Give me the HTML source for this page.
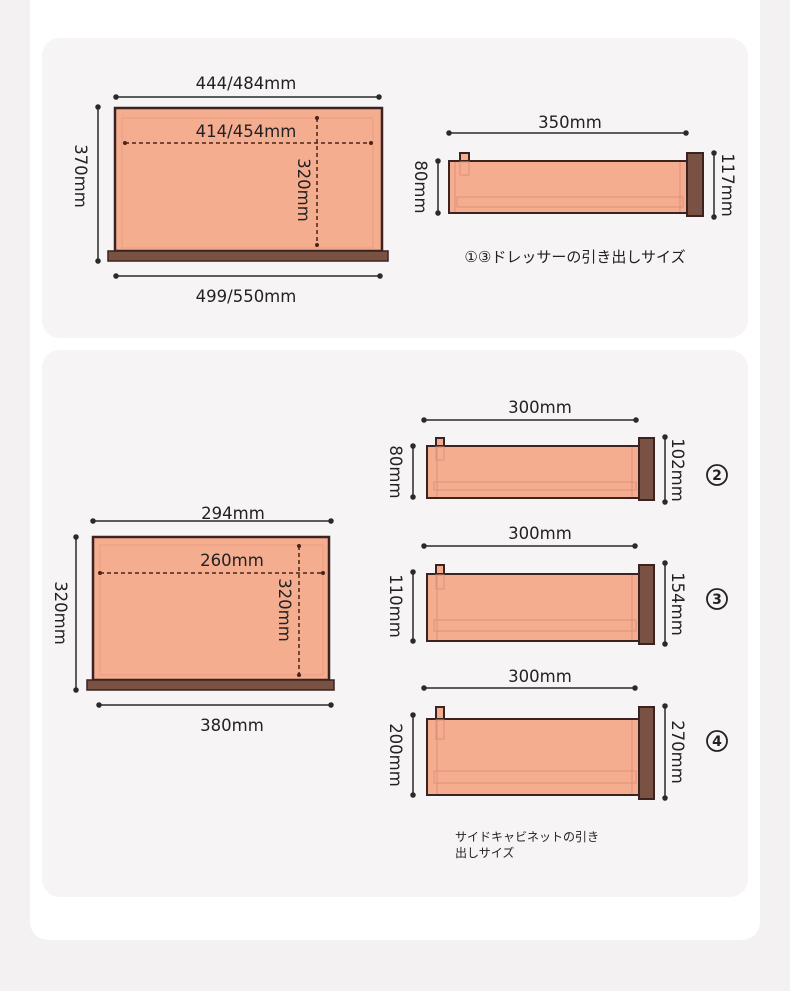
<!DOCTYPE html>
<html><head><meta charset="utf-8"><style>
html,body{margin:0;padding:0;background:#f3f1f1;width:790px;height:991px;overflow:hidden}
svg{display:block}
text{font-family:"DejaVu Sans","Noto Sans CJK JP",sans-serif;fill:#222}
</style></head><body>
<svg width="790" height="991" viewBox="0 0 790 991" xmlns="http://www.w3.org/2000/svg">
<rect x="0" y="0" width="790" height="991" fill="#f3f1f1"/>
<rect x="30" y="-20" width="730" height="960" rx="18" fill="#fff"/>
<rect x="42" y="38" width="706" height="300" rx="18" fill="#f6f4f4"/>
<rect x="42" y="350" width="706" height="547" rx="18" fill="#f6f4f4"/>

<g stroke="#2a2a2a" stroke-width="1.5" fill="#2a2a2a">
<line x1="116" y1="97" x2="379" y2="97"/><circle cx="116" cy="97" r="2"/><circle cx="379" cy="97" r="2"/>
<line x1="98" y1="107" x2="98" y2="261"/><circle cx="98" cy="107" r="2"/><circle cx="98" cy="261" r="2"/>
<line x1="116" y1="276" x2="380" y2="276"/><circle cx="116" cy="276" r="2"/><circle cx="380" cy="276" r="2"/>
<line x1="449" y1="133" x2="686" y2="133"/><circle cx="449" cy="133" r="2"/><circle cx="686" cy="133" r="2"/>
<line x1="438" y1="161" x2="438" y2="213"/><circle cx="438" cy="161" r="2"/><circle cx="438" cy="213" r="2"/>
<line x1="714" y1="153" x2="714" y2="217"/><circle cx="714" cy="153" r="2"/><circle cx="714" cy="217" r="2"/>
<line x1="93" y1="521" x2="331" y2="521"/><circle cx="93" cy="521" r="2"/><circle cx="331" cy="521" r="2"/>
<line x1="76" y1="537" x2="76" y2="690"/><circle cx="76" cy="537" r="2"/><circle cx="76" cy="690" r="2"/>
<line x1="99" y1="705" x2="331" y2="705"/><circle cx="99" cy="705" r="2"/><circle cx="331" cy="705" r="2"/>
<line x1="424" y1="420" x2="636" y2="420"/><circle cx="424" cy="420" r="2"/><circle cx="636" cy="420" r="2"/>
<line x1="413" y1="446" x2="413" y2="497"/><circle cx="413" cy="446" r="2"/><circle cx="413" cy="497" r="2"/>
<line x1="665" y1="437" x2="665" y2="502"/><circle cx="665" cy="437" r="2"/><circle cx="665" cy="502" r="2"/>
<line x1="424" y1="546" x2="635" y2="546"/><circle cx="424" cy="546" r="2"/><circle cx="635" cy="546" r="2"/>
<line x1="413" y1="572" x2="413" y2="641"/><circle cx="413" cy="572" r="2"/><circle cx="413" cy="641" r="2"/>
<line x1="665" y1="563" x2="665" y2="644"/><circle cx="665" cy="563" r="2"/><circle cx="665" cy="644" r="2"/>
<line x1="424" y1="688" x2="635" y2="688"/><circle cx="424" cy="688" r="2"/><circle cx="635" cy="688" r="2"/>
<line x1="413" y1="715" x2="413" y2="795"/><circle cx="413" cy="715" r="2"/><circle cx="413" cy="795" r="2"/>
<line x1="665" y1="706" x2="665" y2="798"/><circle cx="665" cy="706" r="2"/><circle cx="665" cy="798" r="2"/>
</g>

<rect x="115" y="108" width="267" height="143" fill="#f5ad90" stroke="#3a2320" stroke-width="2.5"/>
<rect x="122" y="118" width="251" height="130" fill="none" stroke="#eb9c80" stroke-width="1"/>
<rect x="108" y="251" width="280" height="10" fill="#7a5244" stroke="#3a2320" stroke-width="1.5"/>

<rect x="93" y="537" width="236" height="143" fill="#f5ad90" stroke="#3a2320" stroke-width="2.5"/>
<rect x="100" y="545" width="223" height="130" fill="none" stroke="#eb9c80" stroke-width="1"/>
<rect x="87" y="680" width="247" height="10" fill="#7a5244" stroke="#3a2320" stroke-width="1.5"/>

<g stroke="#4a2418" stroke-width="1.5" stroke-dasharray="4,3" fill="none">
<line x1="125" y1="143" x2="371" y2="143"/><line x1="317" y1="118" x2="317" y2="245"/>
<line x1="100" y1="573" x2="323" y2="573"/><line x1="299" y1="546" x2="299" y2="675"/>
</g>
<g fill="#4a2418"><circle cx="125" cy="143" r="2"/><circle cx="371" cy="143" r="2"/><circle cx="317" cy="118" r="2"/><circle cx="317" cy="245" r="2"/>
<circle cx="100" cy="573" r="2"/><circle cx="323" cy="573" r="2"/><circle cx="299" cy="546" r="2"/><circle cx="299" cy="675" r="2"/></g>

<g stroke="#3a2320" stroke-width="2">
<rect x="460" y="153" width="9" height="9" fill="#f5ad90"/>
<rect x="449" y="161" width="238" height="52" fill="#f5ad90"/>
<rect x="687" y="153" width="16" height="63" fill="#7a5244"/>
<rect x="436" y="438" width="8" height="9" fill="#f5ad90"/>
<rect x="427" y="446" width="212" height="52" fill="#f5ad90"/>
<rect x="639" y="438" width="15" height="62" fill="#7a5244"/>
<rect x="436" y="565" width="8" height="10" fill="#f5ad90"/>
<rect x="427" y="574" width="212" height="67" fill="#f5ad90"/>
<rect x="639" y="565" width="15" height="79" fill="#7a5244"/>
<rect x="436" y="707" width="8" height="12" fill="#f5ad90"/>
<rect x="427" y="719" width="212" height="76" fill="#f5ad90"/>
<rect x="639" y="707" width="15" height="92" fill="#7a5244"/>
</g>
<g stroke="#e0907a" stroke-width="1" fill="none">
<rect x="460" y="162" width="9" height="13"/><line x1="455" y1="162" x2="455" y2="212"/><line x1="680" y1="162" x2="680" y2="212"/><rect x="457" y="197" width="226" height="10"/>
<rect x="436" y="447" width="8" height="13"/><line x1="437" y1="447" x2="437" y2="497"/><line x1="632" y1="447" x2="632" y2="497"/><rect x="434" y="482" width="202" height="8"/>
<rect x="436" y="575" width="8" height="14"/><line x1="437" y1="575" x2="437" y2="640"/><line x1="632" y1="575" x2="632" y2="640"/><rect x="434" y="620" width="202" height="11"/>
<rect x="436" y="720" width="8" height="19"/><line x1="437" y1="720" x2="437" y2="794"/><line x1="632" y1="720" x2="632" y2="794"/><rect x="434" y="771" width="202" height="12"/>
</g>

<g font-size="16.5">
<text x="246" y="89" text-anchor="middle">444/484mm</text>
<text x="246" y="137" text-anchor="middle">414/454mm</text>
<text x="246" y="302" text-anchor="middle">499/550mm</text>
<text transform="translate(75,176) rotate(90)" text-anchor="middle">370mm</text>
<text transform="translate(298,190) rotate(90)" text-anchor="middle">320mm</text>
<text x="570" y="128" text-anchor="middle">350mm</text>
<text transform="translate(415,187) rotate(90)" text-anchor="middle">80mm</text>
<text transform="translate(722,185) rotate(90)" text-anchor="middle">117mm</text>
<text x="233" y="519" text-anchor="middle">294mm</text>
<text x="232" y="566" text-anchor="middle">260mm</text>
<text x="232" y="731" text-anchor="middle">380mm</text>
<text transform="translate(55,613) rotate(90)" text-anchor="middle">320mm</text>
<text transform="translate(279,610) rotate(90)" text-anchor="middle">320mm</text>
<text x="540" y="413" text-anchor="middle">300mm</text>
<text x="540" y="539" text-anchor="middle">300mm</text>
<text x="540" y="682" text-anchor="middle">300mm</text>
<text transform="translate(390,472) rotate(90)" text-anchor="middle">80mm</text>
<text transform="translate(390,606) rotate(90)" text-anchor="middle">110mm</text>
<text transform="translate(390,755) rotate(90)" text-anchor="middle">200mm</text>
<text transform="translate(672,470) rotate(90)" text-anchor="middle">102mm</text>
<text transform="translate(672,604) rotate(90)" text-anchor="middle">154mm</text>
<text transform="translate(672,752) rotate(90)" text-anchor="middle">270mm</text>
</g>
<g fill="none" stroke="#222" stroke-width="1.8">
<circle cx="717" cy="475" r="10"/><circle cx="717" cy="599" r="10"/><circle cx="717" cy="741" r="10"/>
</g>
<g font-size="14" font-weight="bold" text-anchor="middle">
<text x="717" y="480">2</text>
<text x="717" y="604">3</text>
<text x="717" y="746">4</text>
</g>
<text x="575" y="262" font-size="15" text-anchor="middle">①③ドレッサーの引き出しサイズ</text>
<text x="455" y="841" font-size="12">サイドキャビネットの引き</text>
<text x="455" y="857" font-size="12">出しサイズ</text>
</svg>
</body></html>
